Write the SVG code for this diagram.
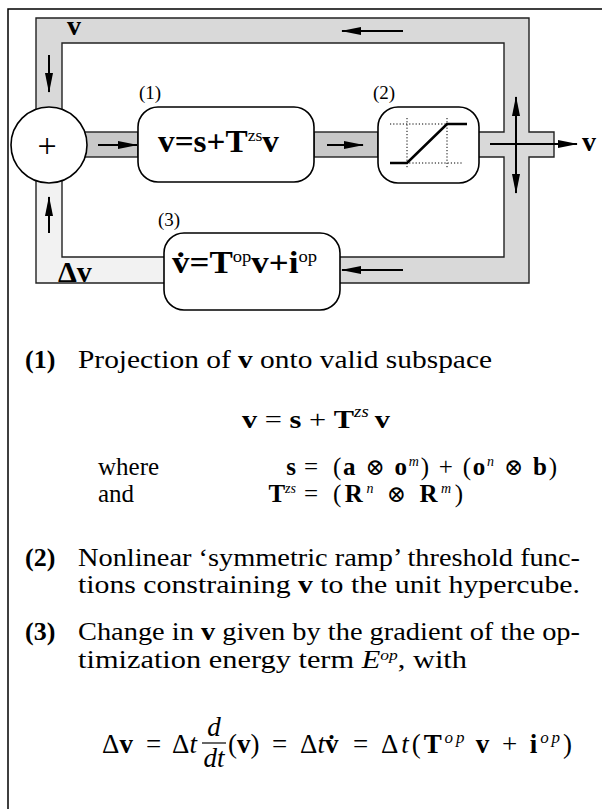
<svg xmlns="http://www.w3.org/2000/svg" width="602" height="809" viewBox="0 0 602 809">
<style>
.t{font-family:"Liberation Serif","DejaVu Serif",serif;fill:#000}
.b{font-weight:bold}
.n{font-weight:normal}
.i{font-style:italic;font-weight:normal}
.ol{stroke:#222;stroke-width:1.4;fill:none}
.box{fill:#fff;stroke:#000;stroke-width:1.6}
.arr{stroke:#000;stroke-width:2;fill:none;marker-end:url(#ah)}
.dot{stroke:#000;stroke-width:1;stroke-dasharray:1.2 2;fill:none}
.ot{font-size:23px;font-weight:normal}
</style>
<defs>
<marker id="ah" markerUnits="userSpaceOnUse" markerWidth="20" markerHeight="8" refX="19" refY="4" orient="auto-start-reverse"><path d="M0,0 L20,4 L0,8 Z" fill="#000"/></marker>
</defs>
<rect width="602" height="809" fill="#fff"/>
<path d="M8,809 V9 H602" fill="none" stroke="#000" stroke-width="1.5"/>

<g id="connectors">
<path d="M36,18 H529 V132 H554 V157 H529 V283 H36 Z M62,43 V257 H504 V43 Z" fill="#d9d9d9" fill-rule="evenodd"/>
<rect x="36" y="150" width="26" height="133" fill="#f2f2f2"/>
<rect x="36" y="257" width="130" height="26" fill="#f2f2f2"/>
<rect x="479" y="132" width="26" height="25" fill="#d9d9d9"/>
<path class="ol" d="M36,18 H529 V132 H554 V157 H529 V283 H36 Z"/>
<path class="ol" d="M479,132 H504 V43 H62 V257 H504 V157 H479"/>
<rect x="70" y="132" width="68" height="25" fill="#c8c8c8" stroke="#222" stroke-width="1.4"/>
<rect x="314" y="132" width="64" height="25" fill="#c8c8c8" stroke="#222" stroke-width="1.4"/>
<line class="arr" x1="403" y1="31" x2="342" y2="31"/>
<line class="arr" x1="403" y1="270" x2="342" y2="270"/>
<line class="arr" x1="49" y1="55" x2="49" y2="92"/>
<line class="arr" x1="49" y1="233" x2="49" y2="197"/>
<line class="arr" x1="98" y1="145" x2="137" y2="145"/>
<line class="arr" x1="327" y1="145" x2="363" y2="145"/>
<line class="arr" x1="490" y1="144" x2="577" y2="144"/>
<line class="arr" x1="516" y1="97" x2="516" y2="193" style="marker-start:url(#ah)"/>
<text class="t b" x="67" y="35" font-size="28">v</text>
<text class="t b" x="58" y="282" font-size="30">Δv</text>
<text class="t b" x="582" y="151" font-size="28">v</text>
</g>

<g id="sum">
<circle cx="49" cy="145" r="38" fill="#fff" stroke="#000" stroke-width="1.6"/>
<text class="t" x="47" y="157" font-size="34" text-anchor="middle">+</text>
</g>

<g id="box1">
<rect class="box" x="138" y="107" width="176" height="75" rx="20"/>
<text class="t" x="139" y="99" font-size="19">(1)</text>
<text class="t b" x="158" y="152" font-size="32" textLength="121" lengthAdjust="spacingAndGlyphs">v=s+T<tspan class="n" font-size="17" dy="-11">zs</tspan><tspan dy="11">v</tspan></text>
</g>

<g id="box2">
<rect class="box" x="378" y="107" width="101" height="76" rx="20"/>
<text class="t" x="373" y="99" font-size="19">(2)</text>
<path class="dot" d="M390,124 H467 M390,163 H463 M407,118 V168 M447,118 V168"/>
<path d="M390,163 H407 L447,124 H467" fill="none" stroke="#000" stroke-width="2.6"/>
</g>

<g id="box3">
<rect class="box" x="164" y="233" width="176" height="77" rx="20"/>
<text class="t" x="158" y="226" font-size="19">(3)</text>
<text class="t b" x="172" y="273" font-size="32" textLength="145" lengthAdjust="spacingAndGlyphs">v&#x307;=T<tspan class="n" font-size="17" dy="-11">op</tspan><tspan dy="11">v+i</tspan><tspan class="n" font-size="17" dy="-11">op</tspan></text>
</g>

<g id="notes" font-size="26">
<text class="t b" x="25" y="368">(1)</text>
<text class="t" x="78" y="368" textLength="414" lengthAdjust="spacingAndGlyphs">Projection of <tspan class="b">v</tspan> onto valid subspace</text>

<text class="t" x="242" y="428" textLength="148" lengthAdjust="spacingAndGlyphs"><tspan class="b">v</tspan> = <tspan class="b">s</tspan> + <tspan class="b">T</tspan><tspan class="i" font-size="16" dy="-11">zs</tspan><tspan class="b" dy="11">&#x2009;v</tspan></text>

<g font-size="25">
<text class="t" x="98" y="475">where</text>
<text class="t b" x="296" y="475" text-anchor="end">s</text>
<text class="t" x="304" y="475">=</text>
<text class="t" x="333" y="475" textLength="224" lengthAdjust="spacing">(<tspan class="b">a</tspan> <tspan class="ot">⊗</tspan> <tspan class="b">o</tspan><tspan class="i" font-size="14" dy="-9">m</tspan><tspan dy="9">) + (</tspan><tspan class="b">o</tspan><tspan class="i" font-size="14" dy="-9">n</tspan><tspan dy="9"> </tspan><tspan class="ot">⊗</tspan> <tspan class="b">b</tspan>)</text>

<text class="t" x="98" y="502">and</text>
<text class="t" x="296" y="502" text-anchor="end"><tspan class="b">T</tspan><tspan class="i" font-size="14" dy="-9">zs</tspan></text>
<text class="t" x="304" y="502">=</text>
<text class="t" x="333" y="502" textLength="130" lengthAdjust="spacing">(<tspan class="b">R</tspan><tspan class="i" font-size="14" dy="-9">n</tspan><tspan dy="9"> </tspan><tspan class="ot">⊗</tspan> <tspan class="b">R</tspan><tspan class="i" font-size="14" dy="-9">m</tspan><tspan dy="9">)</tspan></text>
</g>

<text class="t b" x="25" y="566">(2)</text>
<text class="t" x="78" y="566" textLength="502" lengthAdjust="spacingAndGlyphs">Nonlinear ‘symmetric ramp’ threshold func-</text>
<text class="t" x="78" y="593" textLength="502" lengthAdjust="spacingAndGlyphs">tions constraining <tspan class="b">v</tspan> to the unit hypercube.</text>

<text class="t b" x="25" y="640">(3)</text>
<text class="t" x="78" y="640" textLength="502" lengthAdjust="spacingAndGlyphs">Change in <tspan class="b">v</tspan> given by the gradient of the op-</text>
<text class="t" x="78" y="668" textLength="389" lengthAdjust="spacingAndGlyphs">timization energy term <tspan class="i">E</tspan><tspan class="i" font-size="15" dy="-8">op</tspan><tspan dy="8">, with</tspan></text>

<g font-size="27">
<text class="t" x="102" y="753">Δ<tspan class="b">v</tspan></text>
<text class="t" x="146" y="753">=</text>
<text class="t" x="172" y="753">Δ<tspan class="i">t</tspan></text>
<text class="t i" x="214" y="736" text-anchor="middle">d</text>
<line x1="202" y1="743" x2="226" y2="743" stroke="#000" stroke-width="1.2"/>
<text class="t i" x="214" y="767" text-anchor="middle">dt</text>
<text class="t" x="228" y="753">(<tspan class="b">v</tspan>)</text>
<text class="t" x="272" y="753">=</text>
<text class="t" x="300" y="753">Δ<tspan class="i">t</tspan><tspan class="b">v&#x307;</tspan></text>
<text class="t" x="353" y="753">=</text>
<text class="t" x="381" y="753" textLength="191" lengthAdjust="spacing">Δ<tspan class="i">t</tspan>(<tspan class="b">T</tspan><tspan class="i" font-size="17" dy="-10">op</tspan><tspan class="b" dy="10">&#x2009;v</tspan> + <tspan class="b">i</tspan><tspan class="i" font-size="17" dy="-10">op</tspan><tspan dy="10">)</tspan></text>
</g>
</g>
</svg>
